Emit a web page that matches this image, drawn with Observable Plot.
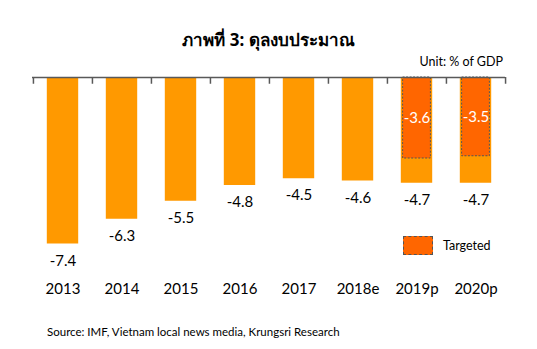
<!DOCTYPE html>
<html>
<head>
<meta charset="utf-8">
<script src="https://cdn.jsdelivr.net/npm/d3@7"></script>
<script src="https://cdn.jsdelivr.net/npm/@observablehq/plot@0.6"></script>
<style>
  body { margin: 0; background: #fff; }
  #wrap { position: relative; width: 537px; height: 349px; overflow: hidden; font-family: Lato, "Open Sans", sans-serif; color: #000; }
  #wrap svg { position: absolute; left: 0; top: 0; }
  .title { position: absolute; left: 0; width: 537px; top: 26px; text-align: center; font-weight: bold; font-size: 17px; font-family: Tahoma, "Noto Sans", "DejaVu Sans", sans-serif; }
  .unit { position: absolute; right: 34px; top: 54px; font-size: 12.5px; }
  .source { position: absolute; left: 47px; top: 325px; font-size: 11.5px; }
  .legend { position: absolute; left: 403px; top: 236px; font-size: 12.5px; display: flex; align-items: center; }
  .legend .sw { width: 28px; height: 17px; background: #FF6600; border: 1px dashed #555; margin-right: 10px; }
</style>
</head>
<body>
<div id="wrap">
  <div class="title">ภาพที่ 3: ดุลงบประมาณ</div>
  <div class="unit">Unit: % of GDP</div>
  <div class="legend"><div class="sw"></div><span>Targeted</span></div>
  <div class="source">Source: IMF, Vietnam local news media, Krungsri Research</div>
</div>
<script>
const years = ["2013", "2014", "2015", "2016", "2017", "2018e", "2019p", "2020p"];
const balance = [-7.4, -6.3, -5.5, -4.8, -4.5, -4.6, -4.7, -4.7];
const targetYears = ["2019p", "2020p"];
const targetValues = [-3.6, -3.5];

const data = years.map((y, i) => ({year: y, value: balance[i]}));
const targets = targetYears.map((y, i) => ({year: y, value: targetValues[i]}));

const W = 537, H = 349, mL = 32, mR = 32;
const step = (W - mL - mR) / years.length;

const chart = Plot.plot({
  width: W,
  height: H,
  marginTop: 77,
  marginBottom: 92,
  marginLeft: mL,
  marginRight: mR,
  style: {fontFamily: "Lato, 'Open Sans', sans-serif", background: "transparent"},
  x: {type: "band", domain: years, padding: 0},
  y: {domain: [-8, 0], axis: null},
  marks: [
    Plot.barY(data, {x: "year", y: "value", fill: "#FF9900", insetLeft: 13.8, insetRight: 13.8}),
    Plot.barY(targets, {x: "year", y: "value", fill: "#FF6600", stroke: "#555", strokeDasharray: "2,1.5", strokeWidth: 1, insetLeft: 15.6, insetRight: 15.6}),
    Plot.ruleY([0], {stroke: "#595959", strokeWidth: 1.5}),
    Plot.ruleX(years, {x: d => d, dx: -step / 2, y1: 0, y2: -0.3, stroke: "#595959", strokeWidth: 1.5}),
    Plot.ruleX([years[years.length - 1]], {x: d => d, dx: step / 2, y1: 0, y2: -0.3, stroke: "#595959", strokeWidth: 1.5}),
    Plot.text(data, {x: "year", y: "value", text: d => d.value.toFixed(1), lineAnchor: "top", dy: 11, fontSize: 15, fill: "#000"}),
    Plot.text(targets, {x: "year", y: d => d.value / 2, text: d => d.value.toFixed(1), fontSize: 15, fill: "#fff"}),
    Plot.axisX({anchor: "bottom", tickSize: 0, tickPadding: 26, fontSize: 15, label: null, stroke: "none"})
  ]
});
document.getElementById("wrap").appendChild(chart);
</script>
</body>
</html>
